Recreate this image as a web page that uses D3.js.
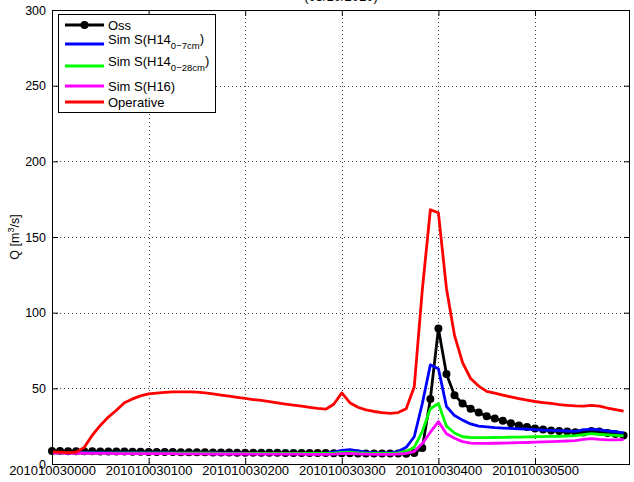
<!DOCTYPE html>
<html>
<head>
<meta charset="utf-8">
<script src="https://cdn.jsdelivr.net/npm/d3@7"></script>
<style>
  body { margin: 0; background: #fff; }
  svg { display: block; font-family: "Liberation Sans", Arial, Helvetica, sans-serif; }
</style>
</head>
<body>
<svg id="chart" width="634" height="482"></svg>
<script>
// Discharge at the section, 5-minute steps from 2010-10-03 00:00
const stepMinutes = 5;
const tickMinutes = [0, 60, 120, 180, 240, 300];
const tickLabels = ["201010030000", "201010030100", "201010030200", "201010030300", "201010030400", "201010030500"];
const yTicks = [0, 50, 100, 150, 200, 250, 300];

// Observed discharge (m3/s)
const oss = [
  8.6, 8.6, 8.5, 8.5, 8.4, 8.4, 8.3, 8.3, 8.2, 8.2,
  8.1, 8.1, 8.0, 8.0, 7.9, 7.9, 7.8, 7.8, 7.7, 7.7,
  7.6, 7.6, 7.6, 7.5, 7.5, 7.5, 7.4, 7.4, 7.4, 7.3,
  7.3, 7.3, 7.2, 7.2, 7.2, 7.1, 7.1, 7.1, 7.0, 7.0,
  7.0, 6.9, 6.9, 6.9, 6.8, 7.2,
  10.5, 43, 89.5, 59.5, 45.5, 40, 36.5, 34, 31.5, 30,
  28.5, 27, 25.5, 24.5, 23.5, 22.8, 22.2, 21.8, 21.4, 21,
  20.8, 21.8, 21.4, 20.5, 19.8, 18.8
];
// Simulated, soil moisture H14 0-7 cm
const simH14a = [
  7.6, 7.6, 7.6, 7.5, 7.5, 7.5, 7.5, 7.4, 7.4, 7.4,
  7.4, 7.3, 7.3, 7.3, 7.3, 7.2, 7.2, 7.2, 7.2, 7.1,
  7.1, 7.1, 7.1, 7.1, 7.0, 7.0, 7.0, 7.0, 7.0, 7.0,
  7.0, 7.0, 7.0, 7.0, 7.2, 7.8, 9.0, 9.5, 8.6, 7.8,
  7.4, 7.3, 7.4, 8.2, 11, 18,
  40, 65.5, 63, 38, 32, 29, 26.5, 25, 24.5, 24,
  23.7, 23.5, 23.2, 23, 22.7, 22.4, 22.2, 22, 21.8, 21.6,
  22.5, 23, 22.5, 21.8, 21.3, 20.5
];
// Simulated, soil moisture H14 0-28 cm
const simH14b = [
  7.3, 7.3, 7.3, 7.3, 7.2, 7.2, 7.2, 7.2, 7.2, 7.2,
  7.1, 7.1, 7.1, 7.1, 7.1, 7.1, 7.1, 7.1, 7.1, 7.1,
  7.1, 7.0, 7.0, 7.0, 7.0, 7.0, 7.0, 7.0, 7.0, 7.0,
  7.0, 7.0, 7.0, 7.0, 7.0, 7.2, 7.6, 7.8, 7.4, 7.1,
  7.0, 7.0, 7.0, 7.3, 8.3, 11,
  21.5, 36.5, 40, 25, 20.5, 18, 17.5, 17.4, 17.4, 17.5,
  17.6, 17.7, 17.8, 17.9, 18, 18.1, 18.2, 18.3, 18.5, 18.7,
  19.4, 20, 19.6, 19.2, 18.9, 18.6
];
// Simulated, soil moisture H16
const simH16 = [
  7.2, 7.2, 7.1, 7.1, 7.1, 7.0, 7.0, 7.0, 6.9, 6.9,
  6.9, 6.9, 6.8, 6.8, 6.8, 6.8, 6.7, 6.7, 6.7, 6.7,
  6.6, 6.6, 6.6, 6.6, 6.6, 6.5, 6.5, 6.5, 6.5, 6.5,
  6.5, 6.5, 6.4, 6.4, 6.4, 6.5, 6.8, 7.0, 6.7, 6.5,
  6.4, 6.4, 6.4, 6.6, 7.0, 8.2,
  13.5, 21, 28, 20, 17, 14.8, 13.8, 13.6, 13.6, 13.7,
  13.8, 14, 14.1, 14.2, 14.4, 14.6, 14.8, 15, 15.2, 15.5,
  16.3, 16.8, 16.3, 16, 16, 16.2
];
// Operative forecast chain
const operative = [
  8, 7.8, 7.5, 7.8, 11, 19, 25.5, 31, 35.5, 40.5,
  43, 45, 46.3, 46.9, 47.3, 47.6, 47.7, 47.7, 47.5, 47,
  46.3, 45.5, 44.8, 44, 43.3, 42.6, 42, 41.2, 40.4, 39.6,
  38.9, 38.2, 37.4, 36.7, 36.2, 39.5, 47, 40.5, 37.5, 35.8,
  34.7, 34, 33.5, 34, 36.5, 51, 115, 168, 166, 116,
  85, 67, 56.5, 51.5, 48, 46.8, 45.5, 44.3, 43.2, 42.2,
  41.3, 40.6, 40, 39.3, 38.8, 38.4, 38.2, 38.8, 38.3, 37,
  36, 35
];

const minutes = oss.map((_, i) => i * stepMinutes);

const series = [
  { values: oss,       color: "#000000", marker: true },
  { values: simH14a,   color: "#0000ff" },
  { values: simH14b,   color: "#00ff00" },
  { values: simH16,    color: "#ff00ff" },
  { values: operative, color: "#ff0000" }
];

const plot = { left: 52, right: 630, top: 10, bottom: 464 };
const svg = d3.select("#chart");

const x = d3.scaleLinear().domain([0, 359]).range([plot.left, plot.right]);
const y = d3.scaleLinear().domain([0, 300]).range([plot.bottom, plot.top]);

// Dotted grid
const grid = svg.append("g").attr("stroke", "#444").attr("stroke-width", 1)
  .attr("stroke-dasharray", "1,3");
yTicks.filter(v => v > 0 && v < 300).forEach(v => {
  grid.append("line").attr("x1", plot.left).attr("x2", plot.right)
    .attr("y1", Math.round(y(v)) + 0.5).attr("y2", Math.round(y(v)) + 0.5);
});
tickMinutes.filter(m => m > 0).forEach(m => {
  grid.append("line").attr("y1", plot.top).attr("y2", plot.bottom)
    .attr("x1", Math.round(x(m)) + 0.5).attr("x2", Math.round(x(m)) + 0.5);
});

// Series lines
const line = d3.line().x((d, i) => x(minutes[i])).y(d => y(d));
const marks = svg.append("g");
series.forEach(s => {
  marks.append("path").datum(s.values)
    .attr("fill", "none").attr("stroke", s.color).attr("stroke-width", 2.8)
    .attr("stroke-linejoin", "round").attr("d", line);
  if (s.marker) {
    marks.append("g").selectAll("circle").data(s.values).join("circle")
      .attr("cx", (d, i) => x(minutes[i])).attr("cy", d => y(d))
      .attr("r", 4).attr("fill", s.color);
  }
});

// Axes with inward ticks on all four sides
const tickLen = 6;
const xAxis = d3.axisBottom(x).tickValues(tickMinutes)
  .tickFormat((d, i) => tickLabels[i]).tickSize(-tickLen).tickSizeOuter(0).tickPadding(2);
const gx = svg.append("g").attr("transform", `translate(0,${plot.bottom})`).call(xAxis);
gx.select(".domain").remove();
gx.selectAll("text").attr("font-size", 13).attr("fill", "#000")
  .attr("font-family", "Liberation Sans, Arial, sans-serif");

const xTop = d3.axisTop(x).tickValues(tickMinutes).tickFormat("").tickSize(-tickLen).tickSizeOuter(0);
const gxt = svg.append("g").attr("transform", `translate(0,${plot.top})`).call(xTop);
gxt.select(".domain").remove();

const yAxis = d3.axisLeft(y).tickValues(yTicks).tickSize(-tickLen).tickSizeOuter(0).tickPadding(6);
const gy = svg.append("g").attr("transform", `translate(${plot.left},0)`).call(yAxis);
gy.select(".domain").remove();
gy.selectAll("text").attr("font-size", 12.5).attr("fill", "#000")
  .attr("font-family", "Liberation Sans, Arial, sans-serif");

const yRight = d3.axisRight(y).tickValues(yTicks).tickFormat("").tickSize(-tickLen).tickSizeOuter(0);
const gyr = svg.append("g").attr("transform", `translate(${plot.right},0)`).call(yRight);
gyr.select(".domain").remove();

svg.selectAll(".tick line").attr("stroke", "#000");

svg.append("rect")
  .attr("x", plot.left + 0.5).attr("y", plot.top + 0.5)
  .attr("width", plot.right - plot.left - 1).attr("height", plot.bottom - plot.top)
  .attr("fill", "none").attr("stroke", "#000").attr("stroke-width", 1);

// Title (mostly above the frame)
svg.append("text").attr("x", (plot.left + plot.right) / 2).attr("y", 1)
  .attr("text-anchor", "middle").attr("font-size", 13).text("(03/10/2010)");

// Y axis label
const yl = svg.append("text")
  .attr("transform", `translate(19,${(plot.top + plot.bottom) / 2}) rotate(-90)`)
  .attr("text-anchor", "middle").attr("font-size", 12.5);
yl.append("tspan").text("Q [m");
yl.append("tspan").attr("font-size", 9).attr("dy", -5).text("3");
yl.append("tspan").attr("dy", 5).text("/s]");

// Legend
const legend = svg.append("g");
legend.append("rect").attr("x", 58.5).attr("y", 14.5).attr("width", 157).attr("height", 98)
  .attr("fill", "#fff").attr("stroke", "#000").attr("stroke-width", 1);
const legendRows = [
  { ly: 25,  ty: 30,  main: "Oss", sub: null, tail: "" },
  { ly: 44,  ty: 44,  main: "Sim S(H14", sub: "0\u22127cm", tail: ")" },
  { ly: 66,  ty: 66,  main: "Sim S(H14", sub: "0\u221228cm", tail: ")" },
  { ly: 86,  ty: 91,  main: "Sim S(H16)", sub: null, tail: "" },
  { ly: 102, ty: 107, main: "Operative", sub: null, tail: "" }
];
legendRows.forEach((r, i) => {
  const s = series[i];
  legend.append("line").attr("x1", 65).attr("x2", 104).attr("y1", r.ly).attr("y2", r.ly)
    .attr("stroke", s.color).attr("stroke-width", 2.8);
  if (s.marker) legend.append("circle").attr("cx", 84.5).attr("cy", r.ly).attr("r", 4).attr("fill", s.color);
  const t = legend.append("text").attr("x", 108).attr("y", r.ty).attr("font-size", 13);
  t.append("tspan").text(r.main);
  if (r.sub) {
    t.append("tspan").attr("font-size", 9.5).attr("dy", 5).text(r.sub);
    t.append("tspan").attr("dy", -6).text(r.tail);
  }
});
</script>
</body>
</html>
